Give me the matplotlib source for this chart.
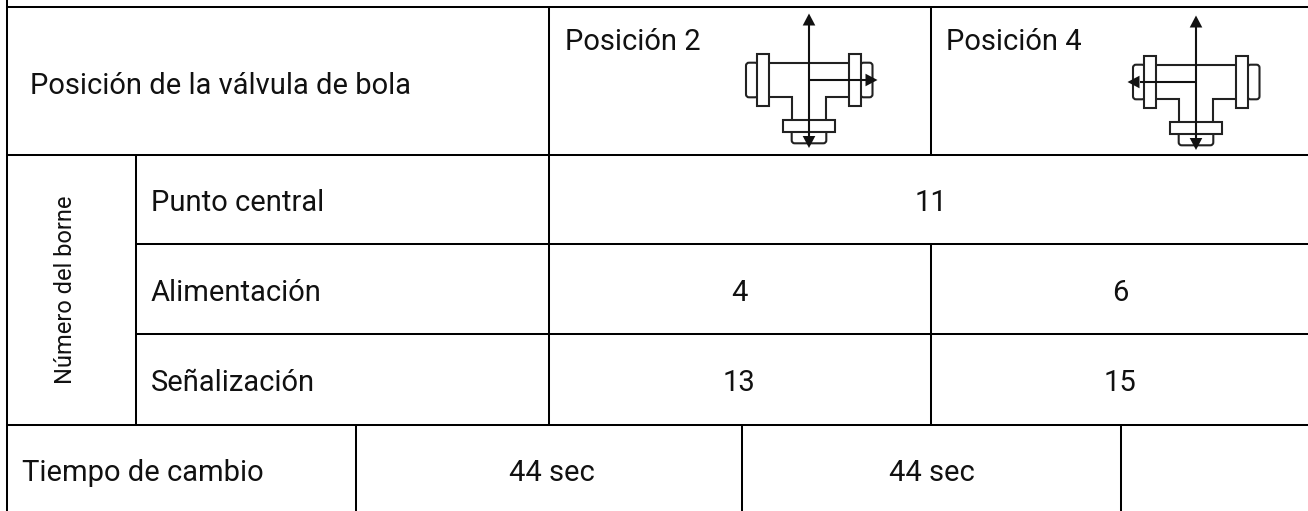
import matplotlib
matplotlib.use('Agg')
import matplotlib.pyplot as plt
from matplotlib.patches import FancyBboxPatch, Rectangle, Polygon

plt.rcParams['font.family'] = ['Roboto', 'DejaVu Sans']

W, H = 1308, 511
FONT = 20.95
TXT = '#111111'
ICON_LW = 1.5

# horizontal rules: y, x from, x to
h_lines = [(7, 7, W), (155, 7, W), (244.5, 136, W), (334.5, 136, W), (425, 7, W)]
# vertical rules: x, y from, y to
v_lines = [(7, 0, H), (136, 155, 425), (549, 7, 425), (930.5, 7, 155),
           (930.5, 244.5, 425), (356, 425, H), (742, 425, H), (1121, 425, H)]

# text cells: label, x, baseline y
left_labels = [('Posición de la válvula de bola', 30, 94),
               ('Posición 2', 565, 50),
               ('Posición 4', 946, 50),
               ('Punto central', 151, 211),
               ('Alimentación', 151, 301),
               ('Señalización', 151, 391),
               ('Tiempo de cambio', 22, 481)]
center_labels = [('11', 931, 211),
                 ('4', 739, 301), ('6', 1120, 301),
                 ('13', 739, 391), ('15', 1120, 391),
                 ('44 sec', 552, 481), ('44 sec', 932, 481)]


def arrow(ax, x0, y0, x1, y1):
    # line with a solid triangular head, tip at x1,y1
    L = ((x1 - x0) ** 2 + (y1 - y0) ** 2) ** 0.5
    ux, uy = (x1 - x0) / L, (y1 - y0) / L
    bx, by = x1 - ux * 12, y1 - uy * 12
    ax.plot([x0, bx], [y0, by], color='#111111', lw=ICON_LW, solid_capstyle='butt', zorder=6)
    ax.add_patch(Polygon([(x1, y1), (bx - uy * 6.3, by + ux * 6.3), (bx + uy * 6.3, by - ux * 6.3)],
                         closed=True, fc='#111111', ec='none', zorder=6))


def valve(ax, cx, dy, side):
    # T fitting, cx = x of the vertical arrow, dy = vertical shift
    k = dict(color='#222222', lw=ICON_LW, solid_joinstyle='miter')
    box = dict(fc='none', ec='#222222', lw=ICON_LW)
    # end caps
    for x, w in [(cx - 63, 12), (cx + 51.5, 12)]:
        ax.add_patch(FancyBboxPatch((x, 62.7 + dy), w, 34.6,
                                    boxstyle='round,pad=0,rounding_size=3', **box))
    ax.add_patch(FancyBboxPatch((cx - 17.3, 128 + dy), 34.6, 15.3,
                                boxstyle='round,pad=0,rounding_size=3', **box))
    # white flanges hide the caps behind them
    ax.add_patch(Rectangle((cx - 52, 54.3 + dy), 12, 51.7, fc='white', ec='#222222', lw=ICON_LW, zorder=3))
    ax.add_patch(Rectangle((cx + 40.3, 54.3 + dy), 12, 51.7, fc='white', ec='#222222', lw=ICON_LW, zorder=3))
    ax.add_patch(Rectangle((cx - 25.7, 120 + dy), 51.7, 12, fc='white', ec='#222222', lw=ICON_LW, zorder=3))
    # outline of the tee
    ax.plot([cx - 40, cx + 40.3], [62.7 + dy] * 2, **k)
    ax.plot([cx - 40, cx - 17.3, cx - 17.3], [97.3 + dy, 97.3 + dy, 120 + dy], **k)
    ax.plot([cx + 40.3, cx + 17, cx + 17], [97.3 + dy, 97.3 + dy, 120 + dy], **k)
    # flow arrows drawn over everything
    arrow(ax, cx, 80 + dy, cx + side * 68.5, 80 + dy)
    arrow(ax, cx, 80 + dy, cx, 13.5 + dy)
    arrow(ax, cx, 80 + dy, cx, 148 + dy)


fig = plt.figure(figsize=(W / 100, H / 100), dpi=100)
ax = fig.add_axes([0, 0, 1, 1])
ax.set_xlim(0, W)
ax.set_ylim(H, 0)
ax.axis('off')

for y, x0, x1 in h_lines:
    ax.plot([x0, x1], [y, y], color='black', lw=1.45, solid_capstyle='projecting')
for x, y0, y1 in v_lines:
    ax.plot([x, x], [y0, y1], color='black', lw=1.45, solid_capstyle='butt')

for label, x, y in left_labels:
    ax.text(x, y, label, fontsize=FONT, color=TXT, ha='left', va='baseline')
for label, x, y in center_labels:
    ax.text(x, y, label, fontsize=FONT, color=TXT, ha='center', va='baseline')
ax.text(77, 289.5, 'Número del borne', fontsize=17.05, color=TXT, rotation=90,
        ha='right', va='center')

valve(ax, 809, 0, 1)
valve(ax, 1196, 2, -1)

fig.savefig('out.png', dpi=100)
plt.close(fig)
